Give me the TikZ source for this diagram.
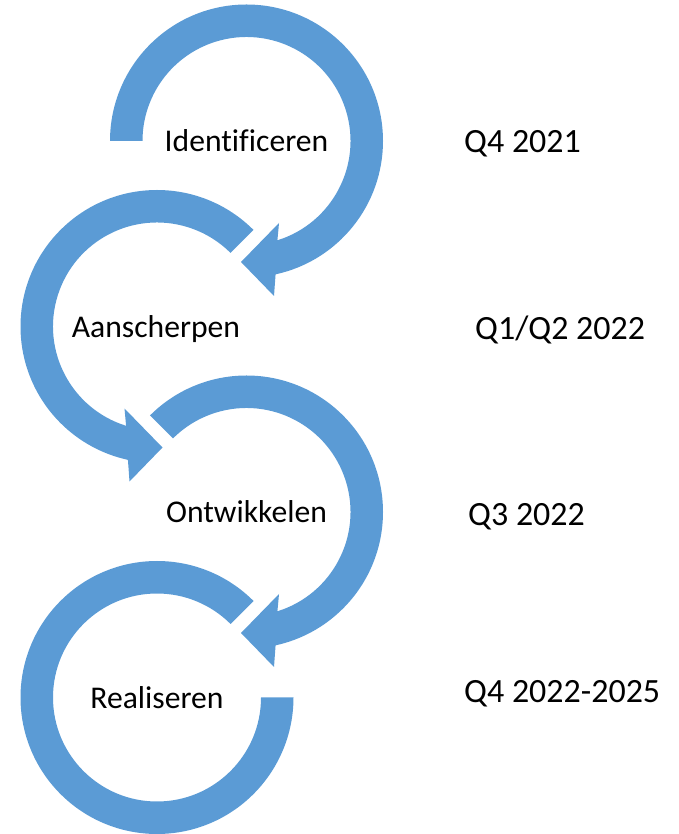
\documentclass[tikz,border=0pt]{standalone}
\usepackage{fontspec}
\setmainfont{Carlito}[Ligatures=NoCommon]
\usepackage{tikz}
\usetikzlibrary{calc}

\definecolor{ringblue}{HTML}{5B9BD5}

% ring with arrowhead at the bottom, drawn clockwise from #1
\newcommand{\cyclearrow}[1]{%
  \fill[ringblue] (#1:136.5) arc[start angle=#1, end angle=-77.7, radius=136.5]
    -- (27.5,-155) -- (-5.5,-121) -- (32.5,-82) -- (-72.7:104)
    arc[start angle=-72.7, end angle=#1, radius=104] -- cycle;}

\begin{document}
\begin{tikzpicture}[x=0.03cm, y=0.03cm,
    phase/.style={inner sep=0, anchor=base, font=\fontsize{27}{32}\selectfont},
    period/.style={inner sep=0, anchor=base west, font=\fontsize{29}{34}\selectfont}]
    \useasboundingbox (0,0) rectangle (679,834);

    \coordinate (c1) at (246.5,693);
    \coordinate (c2) at (157,507.5);
    \coordinate (c3) at (246.5,322);
    \coordinate (c4) at (157,136.5);

    % rings
    \begin{scope}[shift={(c1)}]
        \cyclearrow{180}
    \end{scope}
    \begin{scope}[shift={(c2)}, xscale=-1]
        \cyclearrow{135}
    \end{scope}
    \begin{scope}[shift={(c3)}]
        \cyclearrow{135}
    \end{scope}
    \begin{scope}[shift={(c4)}]
        \fill[ringblue] (45:136.5) arc[start angle=45, end angle=360, radius=136.5]
            -- (0:104) arc[start angle=360, end angle=45, radius=104] -- cycle;
    \end{scope}

    % phases
    \node[phase] (ident) at ($(c1)+(0,-11)$) {Identificeren};
    \node[phase] (aansch) at ($(c2)+(-1,-11)$) {Aanscherpen};
    \node[phase] (ontw) at ($(c3)+(0,-11)$) {Ontwikkelen};
    \node[phase] (real) at ($(c4)+(0,-11)$) {Realiseren};

    % planning
    \node[period] (q1) at (464,681) {Q4 2021};
    \node[period] (q2) at (475,494) {Q1/Q2 2022};
    \node[period] (q3) at (468,308) {Q3 2022};
    \node[period] (q4) at (464,131) {Q4 2022-2025};
\end{tikzpicture}
\end{document}
